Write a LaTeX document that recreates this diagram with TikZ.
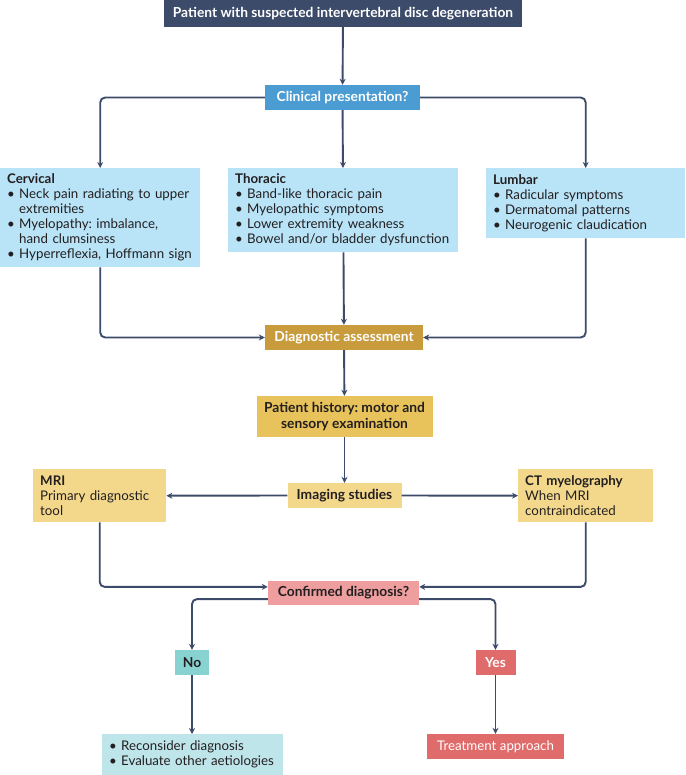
\documentclass[tikz,border=0pt]{standalone}
\usepackage{fontspec}
\setmainfont{Lato}
\usetikzlibrary{arrows.meta,calc}
\definecolor{navy}{HTML}{3C4B69}
\definecolor{cblue}{HTML}{4B9CD3}
\definecolor{lblue}{HTML}{B9E3F7}
\definecolor{gold}{HTML}{C89B3C}
\definecolor{histc}{HTML}{E8C25A}
\definecolor{lyel}{HTML}{F3D88C}
\definecolor{pinkc}{HTML}{EE9E9E}
\definecolor{tealc}{HTML}{88D3D2}
\definecolor{redc}{HTML}{DF6B6B}
\definecolor{lteal}{HTML}{BEE5EA}
\definecolor{txt}{HTML}{231F20}
\newcommand{\bl}[1]{\mbox{\makebox[12pt][l]{\textbullet}#1}}
\newcommand{\ind}[1]{\mbox{\hspace*{12pt}#1}}
\frenchspacing
\tikzset{
 box/.style={rectangle, inner sep=0pt, text=txt, align=center, font=\fontsize{13.8}{15.5}\selectfont\bfseries},
 listbox/.style={rectangle, anchor=north west, inner xsep=7pt, inner ysep=0pt, align=left, text=txt, font=\fontsize{13.3}{15}\selectfont},
 arr/.style={draw=navy, line width=1.9pt, -{Stealth[length=6pt,width=6pt]}, rounded corners=5pt},
}
\begin{document}
\begin{tikzpicture}[x=1pt,y=-1pt]
\useasboundingbox (0,0) rectangle (685,775);
\node[box, fill=navy, text=white, minimum width=358pt, minimum height=27pt] (top) at (343,13.5) {Patient with suspected intervertebral disc degeneration};
\node[box, fill=cblue, text=white, minimum width=155pt, minimum height=25pt] (clin) at (342.5,97.5) {Clinical presentation?};
\node[listbox, fill=lblue, minimum width=200pt, minimum height=99pt, text width=186pt] (cerv) at (0,168) {\textbf{Cervical}\\\bl{Neck pain radiating to upper}\\\ind{extremities}\\\bl{Myelopathy: imbalance,}\\\ind{hand clumsiness}\\\bl{Hyperreflexia, Hoffmann sign}};
\node[listbox, fill=lblue, minimum width=230pt, minimum height=84pt, text width=216pt] (thor) at (228,168) {\textbf{Thoracic}\\\bl{Band-like thoracic pain}\\\bl{Myelopathic symptoms}\\\bl{Lower extremity weakness}\\\bl{Bowel and/or bladder dysfunction}};
\node[listbox, fill=lblue, minimum width=199pt, minimum height=70pt, text width=185pt] (lumb) at (486,168) {\textbf{Lumbar}\\\bl{Radicular symptoms}\\\bl{Dermatomal patterns}\\\bl{Neurogenic claudication}};
\node[box, fill=gold, text=white, minimum width=158pt, minimum height=25pt] (diag) at (344,337.5) {Diagnostic assessment};
\node[box, fill=histc, minimum width=176pt, minimum height=41pt] (hist) at (344.5,416.5) {Patient history: motor and\\sensory examination};
\node[box, fill=lyel, minimum width=114pt, minimum height=25pt] (img) at (344.5,495.5) {Imaging studies};
\node[listbox, fill=lyel, minimum width=133pt, minimum height=53pt, text width=119pt] (mri) at (33,469) {\textbf{MRI}\\Primary diagnostic\\tool};
\node[listbox, fill=lyel, minimum width=135pt, minimum height=53pt, text width=121pt] (ct) at (518,469) {\textbf{CT myelography}\\When MRI\\contraindicated};
\node[box, fill=pinkc, minimum width=151pt, minimum height=24pt] (conf) at (343.5,593) {Confirmed diagnosis?};
\node[box, fill=tealc, minimum width=34pt, minimum height=25pt] (no) at (192,662.5) {No};
\node[box, fill=redc, text=white, minimum width=40pt, minimum height=25pt] (yes) at (495.5,662.5) {Yes};
\node[listbox, fill=lteal, minimum width=181pt, minimum height=41pt, text width=167pt] (recon) at (102,734) {\bl{Reconsider diagnosis}\\\bl{Evaluate other aetiologies}};
\node[box, fill=redc, text=white, font=\fontsize{13.3}{15}\selectfont, minimum width=137pt, minimum height=25pt] (treat) at (495.5,746.5) {Treatment approach};
\draw[arr] (top) -- (clin);
\draw[arr] (clin.west) -| (cerv.north);
\draw[arr] (clin) -- (thor);
\draw[arr] (clin.east) -| (lumb.north);
\draw[arr] (cerv.south) |- (diag.west);
\draw[arr] (thor) -- (diag);
\draw[arr] (lumb.south) |- (diag.east);
\draw[arr] (diag) -- (hist);
\draw[arr] (hist) -- (img);
\draw[arr] (img.west) -- (mri.east);
\draw[arr] (img.east) -- (ct.west);
\coordinate (cinW) at ($(conf.west)!0.5!(conf.north west)$);
\coordinate (cinE) at ($(conf.east)!0.5!(conf.north east)$);
\coordinate (coutW) at ($(conf.west)!0.5!(conf.south west)$);
\coordinate (coutE) at ($(conf.east)!0.5!(conf.south east)$);
\draw[arr] (mri.south) |- (cinW);
\draw[arr] (ct.south) |- (cinE);
\draw[arr] (coutW) -| (no.north);
\draw[arr] (coutE) -| (yes.north);
\draw[arr] (no.south) -- (no.south |- recon.north);
\draw[arr] (yes) -- (treat);
\end{tikzpicture}
\end{document}
